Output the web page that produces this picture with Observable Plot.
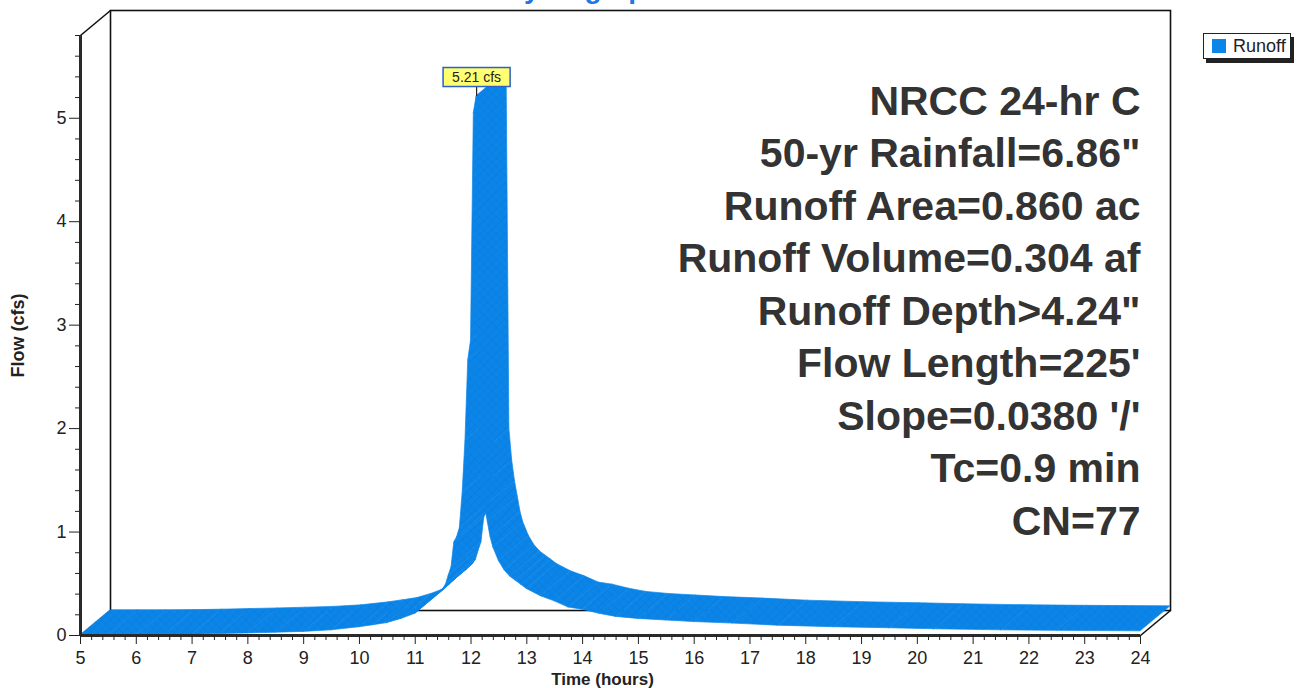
<!DOCTYPE html>
<html>
<head>
<meta charset="utf-8">
<script src="https://cdn.jsdelivr.net/npm/d3@7"></script>
<script src="https://cdn.jsdelivr.net/npm/@observablehq/plot@0.6"></script>
<style>
  html, body { margin: 0; padding: 0; background: #fff; overflow: hidden; }
  #wrap { position: relative; width: 1303px; height: 688px; font-family: "Liberation Sans", Arial, sans-serif; }
  #title { position: absolute; left: 0; width: 1166px; top: -27px; line-height: 28px; text-align: center;
           font: bold 28px "Liberation Sans", Arial, sans-serif; color: #1c78e6; }
  #legend { position: absolute; left: 1203px; top: 33px; width: 88px; height: 26px; box-sizing: border-box;
            border: 1px solid #222; background: #fff; box-shadow: 3px 4px 0 #222;
            display: flex; align-items: center; font: 18px "Liberation Sans", Arial, sans-serif; color: #222; }
  #legend .sw { width: 14px; height: 14px; background: #0b85e8; margin: 0 7px 0 8px; }
</style>
</head>
<body>
<div id="wrap">
  <div id="title">Hydrograph</div>
  <div id="chart"></div>
  <div id="legend"><span class="sw"></span>Runoff</div>
</div>
<script>
// Runoff hydrograph, time (hours) vs flow (cfs)
const hours = [5.0, 5.5, 6.0, 6.5, 7.0, 7.5, 8.0, 8.5, 9.0, 9.5,
  10.0, 10.25, 10.5, 10.75, 11.0, 11.1, 11.2, 11.3, 11.4, 11.5,
  11.55, 11.6, 11.65, 11.7, 11.75, 11.8, 11.85, 11.9, 11.95, 12.0,
  12.05, 12.1, 12.15, 12.2, 12.25, 12.3, 12.35, 12.4, 12.5, 12.6,
  12.7, 12.8, 12.9, 13.0, 13.25, 13.5, 13.75, 14.0, 14.3, 14.6,
  15.0, 15.5, 16.0, 16.7, 17.5, 18.5, 19.5, 20.3, 21.5, 22.5, 24.0];
const flow = [0, 0, 0, 0.003, 0.008, 0.014, 0.02, 0.027, 0.035, 0.05,
  0.08, 0.10, 0.12, 0.16, 0.21, 0.26, 0.31, 0.36, 0.40, 0.45,
  0.49, 0.58, 0.66, 0.90, 0.95, 1.04, 1.38, 1.88, 2.66, 2.85,
  5.05, 5.21, 1.75, 1.45, 1.25, 1.10, 0.95, 0.85, 0.72, 0.63,
  0.57, 0.53, 0.49, 0.45, 0.38, 0.33, 0.27, 0.25, 0.21, 0.18,
  0.16, 0.145, 0.13, 0.115, 0.095, 0.08, 0.07, 0.06, 0.05, 0.045, 0.04];

const xTicks = d3.range(5, 25, 1);
const yTicks = [0, 1, 2, 3, 4, 5];
const xMinor = d3.range(5, 24.01, 0.2).filter(v => Math.abs(v - Math.round(v)) > 1e-6);
const yMinor = d3.range(0, 5.81, 0.2).filter(v => Math.abs(v - Math.round(v)) > 1e-6);

const peakTime = 12.1;
const peakFlow = 5.21;
const peakText = `${peakFlow.toFixed(2)} cfs`;

const summary = [
  "NRCC 24-hr C",
  "50-yr Rainfall=6.86\"",
  "Runoff Area=0.860 ac",
  "Runoff Volume=0.304 af",
  "Runoff Depth>4.24\"",
  "Flow Length=225'",
  "Slope=0.0380 '/'",
  "Tc=0.9 min",
  "CN=77"
];

// layout
const W = 1303, H = 688;
const M = {top: 35, right: 163, bottom: 53, left: 80};
const X_DOMAIN = [5, 24], Y_DOMAIN = [0, 5.8];
const DEPTH_X = 30, DEPTH_Y = 25;          // 3-D depth of the box, px
const pxPerHour = (W - M.left - M.right) / (X_DOMAIN[1] - X_DOMAIN[0]);
const pxPerCfs = (H - M.top - M.bottom) / (Y_DOMAIN[1] - Y_DOMAIN[0]);
const dT = DEPTH_X / pxPerHour, dQ = DEPTH_Y / pxPerCfs;

const BLUE = "#0b85e8";

// ribbon: one quad per segment, front edge on the curve, back edge pushed into depth
const segs = [];
for (let i = 0; i < hours.length - 1; i++) {
  segs.push({s: i, t: hours[i], q: flow[i]}, {s: i, t: hours[i + 1], q: flow[i + 1]});
}

const [x0, x1] = X_DOMAIN, [y0, y1] = Y_DOMAIN;
const depthEdges = [
  {xa: x0, ya: y1, xb: x0 + dT, yb: y1 + dQ},
  {xa: x0, ya: y0, xb: x0 + dT, yb: y0 + dQ},
  {xa: x1, ya: y0, xb: x1 + dT, yb: y0 + dQ}
];

const chart = Plot.plot({
  width: W, height: H,
  marginTop: M.top, marginRight: M.right, marginBottom: M.bottom, marginLeft: M.left,
  x: {domain: X_DOMAIN, axis: null},
  y: {domain: Y_DOMAIN, axis: null},
  style: {fontFamily: "'Liberation Sans', Arial, sans-serif", fontSize: "18px", color: "#222", background: "transparent"},
  marks: [
    // back wall and depth edges
    Plot.frame({stroke: "#111", strokeWidth: 1.6, dx: DEPTH_X, dy: -DEPTH_Y}),
    Plot.link(depthEdges, {x1: "xa", y1: "ya", x2: "xb", y2: "yb", stroke: "#111", strokeWidth: 1.6}),
    // runoff ribbon
    Plot.area(segs, {x1: "t", y1: "q", x2: d => d.t + dT, y2: d => d.q + dQ, z: "s",
      fill: "url(#runoff-hatch)", stroke: BLUE, strokeWidth: 0.7, curve: "linear"}),
    // front axes
    Plot.ruleY([0], {stroke: "#2a2a2a", strokeWidth: 3}),
    Plot.ruleX([5], {stroke: "#2a2a2a", strokeWidth: 3}),
    Plot.axisX({ticks: xTicks, tickSize: 9, tickPadding: 7, tickFormat: d => String(d), fontSize: 18}),
    Plot.axisX({ticks: xMinor, tickSize: 5, text: null}),
    Plot.axisY({ticks: yTicks, tickSize: 11, tickPadding: 3, tickFormat: d => String(d), fontSize: 18}),
    Plot.axisY({ticks: yMinor, tickSize: 5, text: null}),
    Plot.text(["Time (hours)"], {frameAnchor: "bottom", lineAnchor: "middle", dx: -8, dy: 44,
      fontWeight: "bold", fontSize: 17, fill: "#222"}),
    Plot.text(["Flow (cfs)"], {frameAnchor: "left", textAnchor: "middle", lineAnchor: "middle", dx: -62, rotate: -90,
      fontWeight: "bold", fontSize: 18, fill: "#222"}),
    // summary block
    Plot.text([summary.join("\n")], {frameAnchor: "top-right", textAnchor: "end", lineAnchor: "top",
      lineHeight: 1.28, dy: 42, fontSize: 41, fontWeight: "bold", fill: "#333"}),
    // peak callout
    Plot.ruleX([peakTime], {y1: peakFlow, y2: peakFlow + 10 / pxPerCfs, stroke: "#222", strokeWidth: 1.2}),
    Plot.text([peakFlow], {x: peakTime, y: peakFlow, dy: -19, text: () => peakText,
      fontSize: 14, fill: "#222"})
  ]
});

document.getElementById("chart").appendChild(chart);

// hatch pattern used by the ribbon fill
const ns = "http://www.w3.org/2000/svg";
const defs = document.createElementNS(ns, "defs");
defs.innerHTML =
  `<pattern id="runoff-hatch" width="6" height="6" patternUnits="userSpaceOnUse" patternTransform="rotate(45)">
     <rect width="6" height="6" fill="${BLUE}"/>
     <path d="M0 0V6M0 0H6" stroke="#0866c4" stroke-width="1.2" opacity="0.35"/>
   </pattern>`;
chart.insertBefore(defs, chart.firstChild);

// yellow box behind the peak label
Array.from(chart.querySelectorAll("text"))
  .filter(t => t.textContent === peakText)
  .forEach(t => {
    const b = t.getBBox();
    const r = document.createElementNS(ns, "rect");
    r.setAttribute("x", b.x - 9);
    r.setAttribute("y", b.y - 1.5);
    r.setAttribute("width", b.width + 18);
    r.setAttribute("height", b.height + 3);
    r.setAttribute("fill", "#ffff70");
    r.setAttribute("stroke", "#2c5fd0");
    r.setAttribute("stroke-width", "1.5");
    if (t.getAttribute("transform")) r.setAttribute("transform", t.getAttribute("transform"));
    t.parentNode.insertBefore(r, t);
  });
</script>
</body>
</html>
